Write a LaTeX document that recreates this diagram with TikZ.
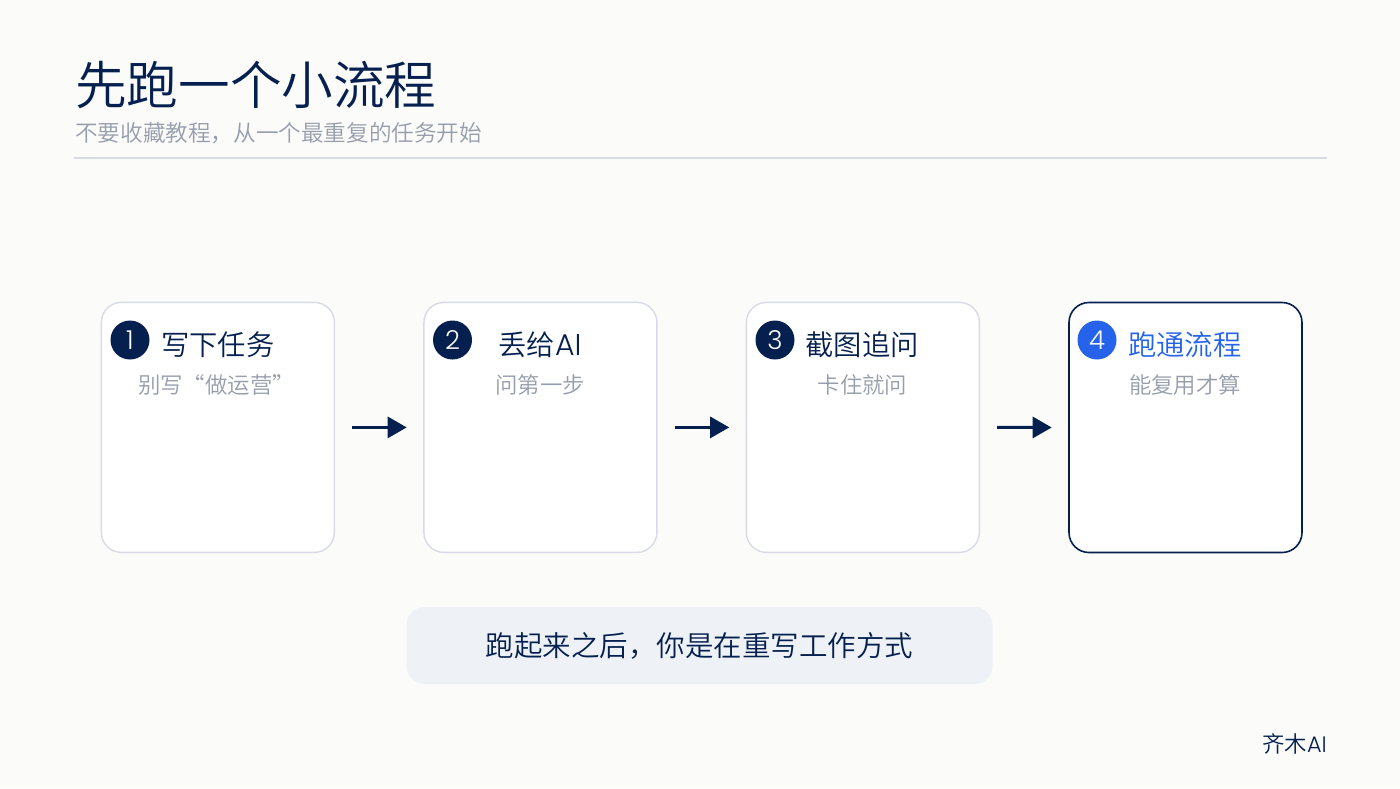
\documentclass[tikz,border=0pt]{standalone}
\usepackage{fontspec}
\setmainfont{Noto Sans CJK SC DemiLight}
\newfontfamily\latf{Poppins Light}
\usetikzlibrary{arrows.meta}
\definecolor{bgc}{HTML}{FBFBF9}
\definecolor{navy}{HTML}{05204F}
\definecolor{greytxt}{HTML}{969DAB}
\definecolor{edgec}{HTML}{D8DBE6}
\definecolor{bluec}{HTML}{2563EB}
\definecolor{notec}{HTML}{EEF2F6}
\newcommand{\fs}[1]{\fontsize{#1}{#1}\selectfont}
\tikzset{
  x=1pt,y=-1pt,
  card/.style={draw=edgec,line width=1.4pt,fill=white,rounded corners=20pt,minimum width=233pt,minimum height=250pt,inner sep=0pt,anchor=north west},
  cardhot/.style={card,draw=navy,line width=1.6pt},
  badge/.style={circle,fill=navy,minimum size=39pt,inner sep=0pt,text=white,font=\fs{26}\latf},
  badgehot/.style={badge,fill=bluec},
  cardtitle/.style={text=navy,font=\fs{28.3},inner sep=0pt},
  cardsub/.style={text=greytxt,font=\fs{22.4},inner sep=0pt},
  flow/.style={draw=navy,line width=3pt,-{Triangle[length=19pt,width=21pt]},shorten <=17pt,shorten >=16.5pt}
}
\begin{document}
\begin{tikzpicture}
\useasboundingbox (0,0) rectangle (1400,788);
\fill[bgc] (0,0) rectangle (1400,788);
\node[anchor=west,text=navy,font=\fs{51.6},inner sep=0pt] (title) at (75,85) {先跑一个小流程};
\node[anchor=west,text=greytxt,font=\fs{22.6},inner sep=0pt] (subtitle) at (75,133) {不要收藏教程，从一个最重复的任务开始};
\coordinate (ruleL) at (74,158);
\coordinate (ruleR) at (1327,158);
\draw[edgec,line width=1.5pt] (ruleL) -- (ruleR);

\node[card] (c1) at (100.7,301.7) {};
\node[card] (c2) at (423.2,301.7) {};
\node[card] (c3) at (745.7,301.7) {};
\node[cardhot] (c4) at (1068.2,301.7) {};

\node[badge] (b1) at (130,340) {1};
\node[badge] (b2) at (452.5,340) {2};
\node[badge] (b3) at (775,340) {3};
\node[badgehot] (b4) at (1097,340) {4};

\node[cardtitle] (t1) at (217.7,345) {写下任务};
\node[cardtitle] (t2) at (540,345) {丢给{\latf\fs{30}AI}};
\node[cardtitle] (t3) at (862.2,345) {截图追问};
\node[cardtitle,text=bluec] (t4) at (1184.7,345) {跑通流程};

\node[cardsub] (s1) at (216.5,385) {别写“做运营”};
\node[cardsub] (s2) at (540,385) {问第一步};
\node[cardsub] (s3) at (862.5,385) {卡住就问};
\node[cardsub] (s4) at (1185,385) {能复用才算};

\draw[flow] (c1) -- (c2);
\draw[flow] (c2) -- (c3);
\draw[flow] (c3) -- (c4);

\node[fill=notec,rounded corners=18pt,minimum width=586pt,minimum height=77pt,inner sep=0pt,text=navy,font=\fs{28.5}] (note) at (699.5,645.5) {\raisebox{1pt}{跑起来之后，你是在重写工作方式}};
\node[anchor=east,text=navy,font=\fs{22.4},inner sep=0pt] (brand) at (1327,744) {齐木{\latf AI}};
\end{tikzpicture}
\end{document}
